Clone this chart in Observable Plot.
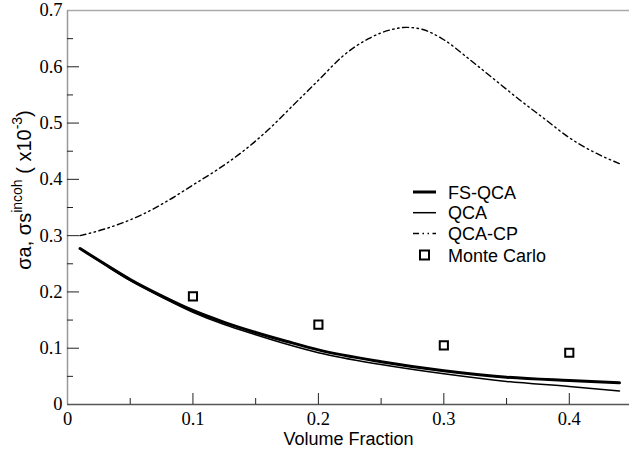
<!DOCTYPE html>
<html><head><meta charset="utf-8">
<script src="https://cdn.jsdelivr.net/npm/d3@7"></script>
<script src="https://cdn.jsdelivr.net/npm/@observablehq/plot@0.6"></script>
<style>html,body{margin:0;padding:0;background:#fff} #chart svg{display:block}</style>
</head><body><div id="chart"></div>
<script>
// FS-QCA
const fsX = [0.01, 0.03, 0.05, 0.075, 0.10, 0.125, 0.15, 0.175, 0.20, 0.25, 0.30, 0.35, 0.40, 0.44];
const fsY = [0.277, 0.249, 0.222, 0.193, 0.167, 0.146, 0.128, 0.112, 0.097, 0.076, 0.060, 0.0485, 0.0425, 0.0385];
// QCA
const qcaX = [0.01, 0.03, 0.05, 0.075, 0.10, 0.125, 0.15, 0.175, 0.20, 0.25, 0.30, 0.35, 0.40, 0.44];
const qcaY = [0.277, 0.248, 0.220, 0.191, 0.164, 0.142, 0.124, 0.107, 0.092, 0.071, 0.0545, 0.041, 0.032, 0.024];
// QCA-CP
const cpX = [0.01, 0.03, 0.06, 0.08, 0.10, 0.12, 0.14, 0.16, 0.18, 0.20, 0.22, 0.24, 0.26, 0.27, 0.28, 0.30, 0.32, 0.34, 0.36, 0.38, 0.40, 0.42, 0.44];
const cpY = [0.300, 0.312, 0.338, 0.362, 0.390, 0.418, 0.450, 0.488, 0.532, 0.576, 0.620, 0.650, 0.667, 0.670, 0.668, 0.648, 0.614, 0.578, 0.542, 0.508, 0.474, 0.448, 0.428];
// Monte Carlo
const mcX = [0.1, 0.2, 0.3, 0.4];
const mcY = [0.192, 0.142, 0.105, 0.092];

const xMajor = [0, 0.1, 0.2, 0.3, 0.4];
const xMinor = [0.05, 0.15, 0.25, 0.35];
const xLabels = ["0", "0.1", "0.2", "0.3", "0.4"];
const yMajor = [0, 0.1, 0.2, 0.3, 0.4, 0.5, 0.6, 0.7];
const yMinor = [0.05, 0.15, 0.25, 0.35, 0.45, 0.55, 0.65];
const yLabels = ["0", "0.1", "0.2", "0.3", "0.4", "0.5", "0.6", "0.7"];

const seriesNames = ["FS-QCA", "QCA", "QCA-CP", "Monte Carlo"];

const toRows = (xs, ys) => xs.map((x, i) => ({x, y: ys[i]}));
const fs = toRows(fsX, fsY), qca = toRows(qcaX, qcaY), cp = toRows(cpX, cpY), mc = toRows(mcX, mcY);

const W = 629, H = 455, mL = 67, mR = 0, mT = 10, mB = 51;
const fw = W - mL - mR, fh = H - mT - mB;
const serif = "'Liberation Serif', 'Times New Roman', serif";
const sans = "'Liberation Sans', Arial, Helvetica, sans-serif";
const dash = "6,3.5,1.5,3.5,1.5,3.5";

const plot = Plot.plot({
  width: W, height: H,
  marginLeft: mL, marginRight: mR, marginTop: mT, marginBottom: mB,
  x: {domain: [0, 0.448], label: null},
  y: {domain: [0, 0.7], label: null},
  style: {background: "white", overflow: "visible"},
  marks: [
    Plot.ruleY([0.7], {stroke: "#aaa", strokeWidth: 1.5}),
    Plot.ruleX([0], {stroke: "#999", strokeWidth: 1.5}),
    Plot.ruleY([0], {stroke: "#555", strokeWidth: 1.5}),
    Plot.tickY(yMajor.slice(1, -1), {y: d => d, insetRight: fw - 12, stroke: "#222", strokeWidth: 1}),
    Plot.tickY(yMinor, {y: d => d, insetRight: fw - 6, stroke: "#222", strokeWidth: 1}),
    Plot.tickX(xMajor.slice(1), {x: d => d, insetTop: fh - 11, stroke: "#222", strokeWidth: 1}),
    Plot.tickX(xMinor, {x: d => d, insetTop: fh - 6, stroke: "#222", strokeWidth: 1}),
    Plot.axisY(yMajor, {tickSize: 0, tickPadding: 5, tickFormat: (d, i) => yLabels[i], fontSize: 18.5, fontFamily: serif, fill: "#000"}),
    Plot.axisX(xMajor, {tickSize: 0, tickPadding: 7.5, tickFormat: (d, i) => xLabels[i], fontSize: 18.5, fontFamily: serif, fill: "#000"}),
    Plot.text(["Volume Fraction"], {frameAnchor: "bottom", dy: 40, fontSize: 18, fontFamily: sans, fill: "#000"}),
    Plot.line(cp, {x: "x", y: "y", stroke: "#000", strokeWidth: 1.4, strokeDasharray: dash, curve: "monotone-x"}),
    Plot.line(qca, {x: "x", y: "y", stroke: "#000", strokeWidth: 1.5, curve: "monotone-x"}),
    Plot.line(fs, {x: "x", y: "y", stroke: "#000", strokeWidth: 3, curve: "monotone-x"}),
    Plot.dot(mc, {x: "x", y: "y", symbol: "square", r: 4.6, stroke: "#000", strokeWidth: 2, fill: "none"})
  ]
});
document.getElementById("chart").appendChild(plot);

const svg = d3.select(plot);
// y-axis title
const yt = svg.append("text")
  .attr("transform", "translate(31,190) rotate(-90)")
  .attr("text-anchor", "middle")
  .attr("font-family", sans)
  .attr("font-size", 20)
  .attr("fill", "#000");
yt.append("tspan").text("σa, σs");
yt.append("tspan").attr("font-size", 14).attr("dy", -9).text("incoh");
yt.append("tspan").attr("dy", 9).text(" ( x10");
yt.append("tspan").attr("font-size", 14).attr("dy", -9).text("-3");
yt.append("tspan").attr("dy", 9).text(")");

// legend
const lg = svg.append("g").attr("font-family", sans).attr("font-size", 18).attr("fill", "#000").attr("text-anchor", "start");
const rows = [192, 212.7, 233.5, 255];
const styles = [
  {w: 3}, {w: 1.5}, {w: 1.4, dash: dash}, null
];
seriesNames.forEach((name, i) => {
  const yy = rows[i];
  if (styles[i]) {
    const l = lg.append("line").attr("x1", 413).attr("x2", 436).attr("y1", yy).attr("y2", yy)
      .attr("stroke", "#000").attr("stroke-width", styles[i].w);
    if (styles[i].dash) l.attr("stroke-dasharray", styles[i].dash);
  } else {
    lg.append("rect").attr("x", 420).attr("y", yy - 4.5).attr("width", 9).attr("height", 9)
      .attr("fill", "none").attr("stroke", "#000").attr("stroke-width", 2);
  }
  lg.append("text").attr("x", 448).attr("y", yy + 6.5).attr("text-anchor", "start").text(name);
});
</script>
</body></html>
